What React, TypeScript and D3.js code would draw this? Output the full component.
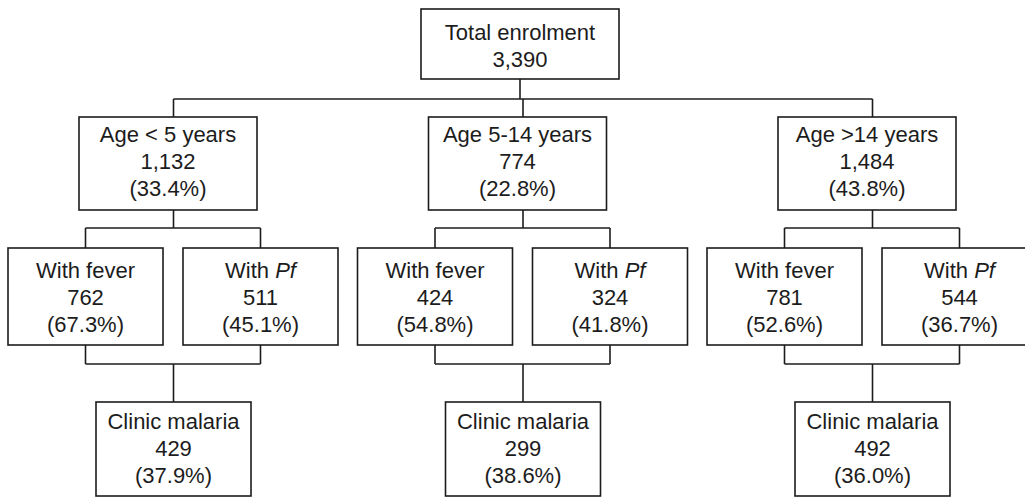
import React from "react";
import * as d3 from "d3";

const totalLabel = "Total enrolment";
const totalN = 3390;
const groupLabels = ["Age < 5 years", "Age 5-14 years", "Age >14 years"];
const groupN = [1132, 774, 1484];
const groupPct = [33.4, 22.8, 43.8];
const feverN = [762, 424, 781];
const feverPct = [67.3, 54.8, 52.6];
const pfN = [511, 324, 544];
const pfPct = [45.1, 41.8, 36.7];
const clinicN = [429, 299, 492];
const clinicPct = [37.9, 38.6, 36.0];

const W = 1025;
const H = 497;
const FONT = "'Liberation Sans', Arial, sans-serif";
const INK = "#1c1c1c";
const FS = 22;
const LH = 27;

const fmtN = d3.format(",");
const fmtP = (p: number) => `(${d3.format(".1f")(p)}%)`;

type Line = { parts: { t: string; italic?: boolean }[] };

function Box({ x, y, w, h, lines, firstBase }: { x: number; y: number; w: number; h: number; lines: Line[]; firstBase: number }) {
  const cx = x + w / 2;
  return (
    <g>
      <rect x={x} y={y} width={w} height={h} fill="#fff" stroke={INK} strokeWidth={1.6} />
      {lines.map((ln, i) => (
        <text key={i} x={cx} y={y + firstBase + i * LH} textAnchor="middle" fontFamily={FONT} fontSize={FS} fill={INK}>
          {ln.parts.map((p, j) => (
            <tspan key={j} fontStyle={p.italic ? "italic" : "normal"}>{p.t}</tspan>
          ))}
        </text>
      ))}
    </g>
  );
}

export default function App() {
  const idx = d3.range(groupLabels.length);
  // group positions (left edge of age box)
  const gx = d3.scaleLinear().domain([0, 2]).range([79, 778]);
  const y = d3.scaleOrdinal<string, number>().domain(["top", "bar1", "age", "bar2", "sub", "bar3", "clinic"]).range([9, 99, 117, 228, 248, 364, 402]);

  const topBox = { x: 421, y: y("top"), w: 198, h: 70 };
  const ageW = 178, ageH = 93;
  const subW = 155, subH = 97;
  const clinW = 155, clinH = 94;

  const joinX = (i: number) => gx(i) + 17 + clinW / 2;
  const feverX = (i: number) => gx(i) - 71;
  const pfX = (i: number) => gx(i) + 104;
  const clinX = (i: number) => gx(i) + 17;

  const L = (s: string): Line => ({ parts: [{ t: s }] });

  const segs: [number, number, number, number][] = [];
  const topCx = topBox.x + topBox.w / 2;
  segs.push([topCx, topBox.y + topBox.h, topCx, y("bar1")]);
  segs.push([joinX(0), y("bar1"), joinX(2), y("bar1")]);
  idx.forEach((i) => {
    const jx = joinX(i);
    const fx = feverX(i) + subW / 2;
    const px = pfX(i) + subW / 2;
    segs.push([jx, y("bar1"), jx, y("age")]);
    segs.push([jx, y("age") + ageH, jx, y("bar2")]);
    segs.push([fx, y("bar2"), px, y("bar2")]);
    segs.push([fx, y("bar2"), fx, y("sub")]);
    segs.push([px, y("bar2"), px, y("sub")]);
    segs.push([fx, y("sub") + subH, fx, y("bar3")]);
    segs.push([px, y("sub") + subH, px, y("bar3")]);
    segs.push([fx, y("bar3"), px, y("bar3")]);
    segs.push([jx, y("bar3"), jx, y("clinic")]);
  });

  return (
    <div style={{ position: "absolute", left: 0, top: 0 }}>
      <svg width={W} height={H} style={{ display: "block", background: "#fff" }}>
        {segs.map((s, k) => (
          <line key={k} x1={s[0]} y1={s[1]} x2={s[2]} y2={s[3]} stroke={INK} strokeWidth={1.6} />
        ))}
        <Box x={topBox.x} y={topBox.y} w={topBox.w} h={topBox.h} firstBase={31} lines={[L(totalLabel), L(fmtN(totalN))]} />
        {idx.map((i) => (
          <g key={i}>
            <Box x={gx(i)} y={y("age")} w={ageW} h={ageH} firstBase={25} lines={[L(groupLabels[i]), L(fmtN(groupN[i])), L(fmtP(groupPct[i]))]} />
            <Box x={feverX(i)} y={y("sub")} w={subW} h={subH} firstBase={30} lines={[L("With fever"), L(fmtN(feverN[i])), L(fmtP(feverPct[i]))]} />
            <Box x={pfX(i)} y={y("sub")} w={subW} h={subH} firstBase={30} lines={[{ parts: [{ t: "With " }, { t: "Pf", italic: true }] }, L(fmtN(pfN[i])), L(fmtP(pfPct[i]))]} />
            <Box x={clinX(i)} y={y("clinic")} w={clinW} h={clinH} firstBase={27} lines={[L("Clinic malaria"), L(fmtN(clinicN[i])), L(fmtP(clinicPct[i]))]} />
          </g>
        ))}
      </svg>
    </div>
  );
}
